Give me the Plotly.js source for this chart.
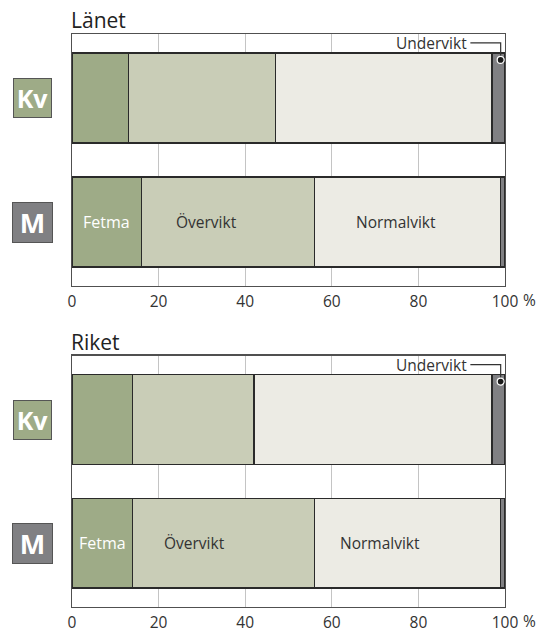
<!DOCTYPE html>
<html>
<head>
<meta charset="utf-8">
<script src="https://cdn.plot.ly/plotly-3.0.1.min.js"></script>
<style>html,body{margin:0;padding:0;background:#fff;}#chart{width:539px;height:633px;}</style>
</head>
<body>
<div id="chart"></div>
<script>
// Data
const groups = ['M', 'Kv'];            // y positions 0 and 1
const categories = ['Fetma', 'Övervikt', 'Normalvikt', 'Undervikt'];
const lanetFetma = [16, 13];
const lanetOvervikt = [40, 34];
const lanetNormalvikt = [43, 50];
const lanetUndervikt = [1, 3];
const riketFetma = [14, 14];
const riketOvervikt = [42, 28];
const riketNormalvikt = [43, 55];
const riketUndervikt = [1, 3];
const tickVals = [0, 20, 40, 60, 80, 100];
const tickText = ['0', '20', '40', '60', '80', '100'];
const panelTitles = ['Länet', 'Riket'];

const colors = ['#9eab87', '#c9cdb7', '#ecebe4', '#808083'];
const FONT = 'Open Sans, Noto Sans, sans-serif';
const ypos = groups.map((g, i) => i);
const panels = [
  [lanetFetma, lanetOvervikt, lanetNormalvikt, lanetUndervikt],
  [riketFetma, riketOvervikt, riketNormalvikt, riketUndervikt]
];

const traces = [];
panels.forEach((series, p) => {
  series.forEach((vals, k) => {
    traces.push({
      type: 'bar', orientation: 'h',
      x: vals, y: ypos, name: categories[k],
      xaxis: p === 0 ? 'x' : 'x2', yaxis: p === 0 ? 'y' : 'y2',
      width: 0.726,
      marker: {color: colors[k], line: {color: '#2a2a2a', width: 1.3}},
      hoverinfo: 'x+name', showlegend: false
    });
  });
});

const xax = {
  range: [0, 100], tickvals: tickVals, ticktext: tickText,
  showgrid: true, gridcolor: '#c4c4c4', gridwidth: 1,
  showline: true, mirror: true, linecolor: '#505050', linewidth: 1.4,
  zeroline: false, ticks: '', fixedrange: true, ticklabelstandoff: 1,
  tickfont: {family: FONT, size: 15.5, color: '#333'}
};
const yax = {
  range: [-0.516, 1.516], showticklabels: false, showgrid: false,
  showline: true, mirror: true, linecolor: '#505050', linewidth: 1.4,
  zeroline: false, ticks: '', fixedrange: true
};

const annotations = [];
const shapes = [];
const inLabelX = [[8, 31, 74.8], [7, 28.2, 71.1]];
panels.forEach((series, p) => {
  const xr = p === 0 ? 'x' : 'x2';
  const yr = p === 0 ? 'y' : 'y2';
  // panel title
  annotations.push({text: panelTitles[p], xref: xr + ' domain', yref: yr + ' domain',
    x: 0, y: 1, xanchor: 'left', yanchor: 'middle', xshift: -3, yshift: 14, showarrow: false,
    font: {family: FONT, size: 21, color: '#222'}});
  // group labels
  annotations.push({text: '<b>Kv</b>', xref: 'paper', yref: yr, x: -0.0912, y: 1,
    xanchor: 'center', yanchor: 'middle', showarrow: false, width: 37, height: 38,
    bgcolor: colors[0], bordercolor: '#555', borderwidth: 1, borderpad: 0,
    font: {family: FONT, size: 25, color: '#fff'}});
  annotations.push({text: '<b>M</b>', xref: 'paper', yref: yr, x: -0.0912, y: 0,
    xanchor: 'center', yanchor: 'middle', showarrow: false, width: 39, height: 39,
    bgcolor: colors[3], bordercolor: '#555', borderwidth: 1, borderpad: 0,
    font: {family: FONT, size: 27, color: '#fff'}});
  // in-bar labels on M
  const lx = inLabelX[p];
  annotations.push({text: categories[0], xref: xr, yref: yr, x: lx[0], y: 0,
    showarrow: false, font: {family: FONT, size: 16, color: '#fff'}});
  annotations.push({text: categories[1], xref: xr, yref: yr, x: lx[1], y: 0,
    showarrow: false, font: {family: FONT, size: 15.5, color: '#333'}});
  annotations.push({text: categories[2], xref: xr, yref: yr, x: lx[2], y: 0,
    showarrow: false, font: {family: FONT, size: 15.5, color: '#333'}});
  // Undervikt callout
  annotations.push({text: categories[3], xref: xr, yref: yr, x: 91.6, y: 1.444,
    xanchor: 'right', yanchor: 'middle', showarrow: false,
    font: {family: FONT, size: 15.5, color: '#333'}});
  shapes.push({type: 'path', xref: xr, yref: yr,
    path: 'M 92,1.444 L 99,1.444 L 99,1.307', line: {color: '#333', width: 1.2}});
  shapes.push({type: 'circle', xref: xr, yref: yr, xsizemode: 'pixel', ysizemode: 'pixel',
    xanchor: 99, yanchor: 1.307, x0: -3.5, x1: 3.5, y0: -3.5, y1: 3.5,
    fillcolor: '#1a1a1a', line: {color: '#fff', width: 1.2}});
  // percent sign after 100
  annotations.push({text: '%', xref: xr, yref: yr + ' domain', x: 100, y: 0,
    xanchor: 'left', yanchor: 'middle', xshift: 16, yshift: -14, showarrow: false,
    font: {family: FONT, size: 15.5, color: '#333'}});
});

const layout = {
  width: 539, height: 633,
  margin: {l: 72, r: 34, t: 34, b: 26},
  paper_bgcolor: '#fff', plot_bgcolor: '#fff',
  barmode: 'stack', bargap: 0,
  showlegend: false,
  xaxis: Object.assign({anchor: 'y'}, xax),
  yaxis: Object.assign({domain: [0.5602, 1], anchor: 'x'}, yax),
  xaxis2: Object.assign({anchor: 'y2'}, xax),
  yaxis2: Object.assign({domain: [0, 0.4386], anchor: 'x2'}, yax),
  annotations: annotations,
  shapes: shapes,
  font: {family: FONT}
};

Plotly.newPlot('chart', traces, layout, {displayModeBar: false, staticPlot: true});
</script>
</body>
</html>
